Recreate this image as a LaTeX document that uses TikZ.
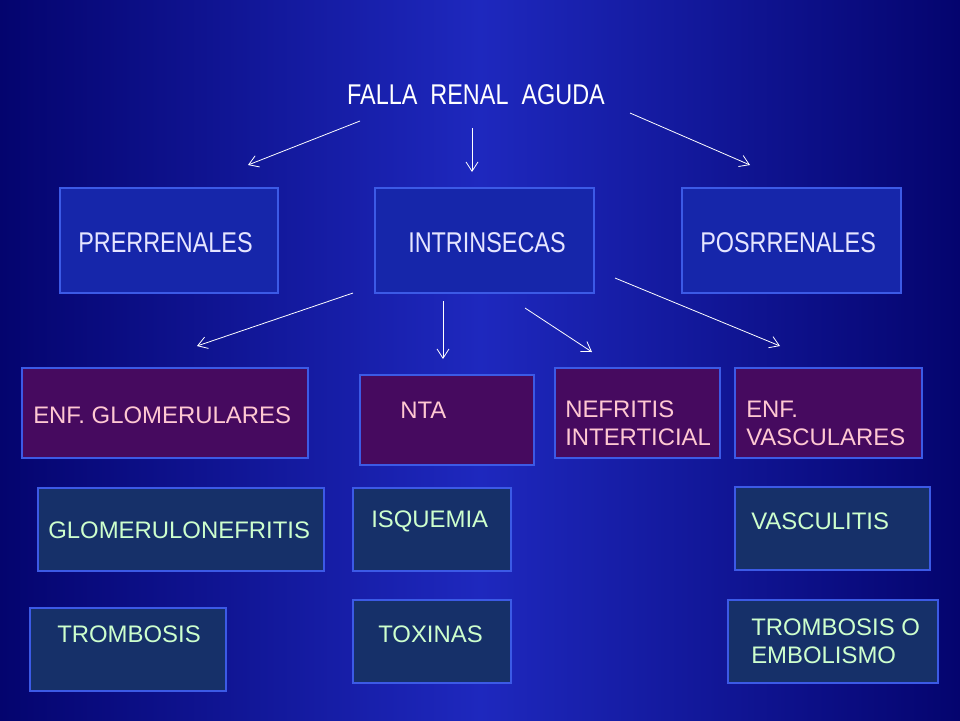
\documentclass[tikz,border=0pt]{standalone}
\usepackage{fontspec}
\setmainfont{Liberation Sans}
\newfontfamily\narrowfont[FakeStretch=0.82]{Liberation Sans}
\usetikzlibrary{arrows.meta}
\definecolor{bgdark}{RGB}{4,4,110}
\definecolor{bglight}{RGB}{30,40,190}
\definecolor{boxline}{RGB}{60,90,230}
\definecolor{topfill}{RGB}{22,38,170}
\definecolor{purplefill}{RGB}{70,10,95}
\definecolor{tealfill}{RGB}{22,48,105}
\definecolor{pinktext}{RGB}{255,200,210}
\definecolor{greentext}{RGB}{205,255,205}

\tikzset{
  box/.style={draw=boxline, line width=1.5pt, inner sep=0pt},
  topbox/.style={box, fill=topfill},
  purplebox/.style={box, fill=purplefill},
  tealbox/.style={box, fill=tealfill},
  toplabel/.style={anchor=west, inner sep=0pt, text=white!90!blue, font=\narrowfont\fontsize{21.5}{24}\selectfont},
  pinklabel/.style={anchor=west, inner sep=0pt, text=pinktext, align=left, font=\fontsize{18}{21}\selectfont},
  greenlabel/.style={anchor=west, inner sep=0pt, text=greentext, align=left, font=\fontsize{18}{21}\selectfont},
  arrow/.style={-{Straight Barb[length=7pt,width=9pt]}, white, line width=0.6pt}
}
% box from pixel corners
\newcommand{\pbox}[6]{\node[#6, minimum width={(#4-#2)*0.02646cm}, minimum height={(#5-#3)*0.02646cm}] (#1) at ({(#2+#4)/2},{(#3+#5)/2}) {};}

\begin{document}
\begin{tikzpicture}[x=0.02646cm, y=-0.02646cm]
  % background
  \shade[left color=bgdark, right color=bgdark, middle color=bglight] (0,0) rectangle (960,720);
  \useasboundingbox (0,0) rectangle (960,720);

  % title
  \node[text=white, font=\narrowfont\fontsize{21.5}{24}\selectfont] (title) at (476,95) {FALLA\ \ RENAL\ \ AGUDA};

  % first level
  \pbox{pre}{60}{188}{278}{293}{topbox}
  \pbox{intr}{375}{188}{594}{293}{topbox}
  \pbox{pos}{682}{188}{901}{293}{topbox}
  \node[toplabel] (preT) at (78,243) {PRERRENALES};
  \node[toplabel] (intrT) at (408,243) {INTRINSECAS};
  \node[toplabel] (posT) at (700,243) {POSRRENALES};

  % second level
  \pbox{glom}{22}{368}{308}{458}{purplebox}
  \pbox{nta}{360}{375}{534}{465}{purplebox}
  \pbox{nef}{555}{368}{720}{458}{purplebox}
  \pbox{vasc}{735}{368}{922}{458}{purplebox}
  \node[pinklabel] (glomT) at (33,415) {ENF. GLOMERULARES};
  \node[pinklabel] (ntaT) at (400,410) {NTA};
  \node[pinklabel] (nefT) at (565,423) {NEFRITIS\\INTERTICIAL};
  \node[pinklabel] (vascT) at (746,423) {ENF.\\VASCULARES};

  % causes
  \pbox{gn}{38}{488}{324}{571}{tealbox}
  \pbox{isq}{353}{488}{511}{571}{tealbox}
  \pbox{vcl}{735}{487}{930}{570}{tealbox}
  \pbox{trb}{30}{608}{226}{691}{tealbox}
  \pbox{tox}{353}{600}{511}{683}{tealbox}
  \pbox{emb}{728}{600}{938}{683}{tealbox}
  \node[greenlabel] (gnT) at (48,530) {GLOMERULONEFRITIS};
  \node[greenlabel] (isqT) at (371,521) {ISQUEMIA};
  \node[greenlabel] (vclT) at (751,521) {VASCULITIS};
  \node[greenlabel] (trbT) at (57,634) {TROMBOSIS};
  \node[greenlabel] (toxT) at (378,634) {TOXINAS};
  \node[greenlabel] (embT) at (751,641) {TROMBOSIS O\\EMBOLISMO};

  % arrow ends
  \coordinate (a1) at (360,121); \coordinate (b1) at (248,165);
  \coordinate (a2) at (472,128); \coordinate (b2) at (472,172);
  \coordinate (a3) at (630,113); \coordinate (b3) at (750,165);
  \coordinate (c1) at (353,293); \coordinate (d1) at (197,346);
  \coordinate (c2) at (443,301); \coordinate (d2) at (443,359);
  \coordinate (c3) at (525,308); \coordinate (d3) at (592,352);
  \coordinate (c4) at (615,278); \coordinate (d4) at (780,346);
  \foreach \s/\e in {a1/b1, a2/b2, a3/b3, c1/d1, c2/d2, c3/d3, c4/d4}
    \draw[arrow] (\s) -- (\e);
\end{tikzpicture}
\end{document}
